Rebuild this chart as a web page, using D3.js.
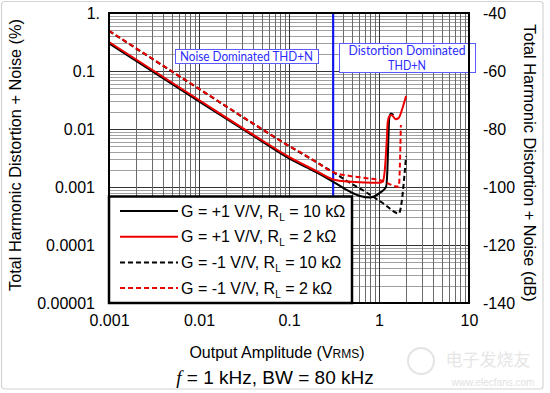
<!DOCTYPE html>
<html>
<head>
<meta charset="utf-8">
<script src="https://cdn.jsdelivr.net/npm/d3@7"></script>
<style>
  html, body { margin: 0; padding: 0; background: #ffffff; }
  svg { display: block; }
  text { font-family: "Liberation Sans", Arial, sans-serif; }
</style>
</head>
<body>
<svg id="chart" width="550" height="393"></svg>
<script>
// ---------------- data ----------------
const xTickValues = [0.001, 0.01, 0.1, 1, 10];
const xTickLabels = ["0.001", "0.01", "0.1", "1", "10"];
const yTickValues = [1, 0.1, 0.01, 0.001, 0.0001, 0.00001];
const yTickLabels = ["1.", "0.1", "0.01", "0.001", "0.0001", "0.00001"];
const dbTickValues = [-40, -60, -80, -100, -120, -140];
const dbTickLabels = ["-40", "-60", "-80", "-100", "-120", "-140"];

// G = +1 V/V, RL = 10 kOhm (black solid)
const ampPos10k = [0.001, 0.01, 0.05, 0.1, 0.2, 0.31, 0.476, 0.615, 0.79, 1.03, 1.2, 1.24, 1.27, 1.30, 1.36, 1.45];
const thdPos10k = [0.30, 0.030, 0.0061, 0.0031, 0.0018, 0.00123, 0.00083, 0.0007, 0.00066, 0.0008, 0.00101, 0.002, 0.0065, 0.0155, 0.0185, 0.0175];
// G = +1 V/V, RL = 2 kOhm (red solid)
const ampPos2k = [0.001, 0.01, 0.05, 0.1, 0.2, 0.31, 0.45, 0.7, 1.0, 1.10, 1.16, 1.22, 1.25, 1.31, 1.38, 1.53, 1.65, 1.84, 2.0];
const thdPos2k = [0.316, 0.0316, 0.0064, 0.0033, 0.0019, 0.00135, 0.00124, 0.00119, 0.00118, 0.00125, 0.00196, 0.0065, 0.0132, 0.0168, 0.0175, 0.0148, 0.0154, 0.024, 0.037];
// G = -1 V/V, RL = 10 kOhm (black dashed)
const ampNeg10k = [0.001, 0.01, 0.05, 0.1, 0.2, 0.31, 0.476, 0.73, 1.12, 1.66, 2.0];
const thdNeg10k = [0.49, 0.049, 0.0099, 0.0051, 0.0027, 0.0018, 0.00118, 0.0008, 0.00052, 0.00035, 0.0034];
// G = -1 V/V, RL = 2 kOhm (red dashed)
const ampNeg2k = [0.001, 0.01, 0.05, 0.1, 0.133, 0.2, 0.31, 0.476, 0.73, 1.03, 1.66, 1.75];
const thdNeg2k = [0.495, 0.0495, 0.0100, 0.0051, 0.0040, 0.0027, 0.0018, 0.00155, 0.00142, 0.00131, 0.00101, 0.0117];

const seriesNames = [
  ["G = +1 V/V, R", "L", " = 10 kΩ"],
  ["G = +1 V/V, R", "L", " = 2 kΩ"],
  ["G = -1 V/V, R", "L", " = 10 kΩ"],
  ["G = -1 V/V, R", "L", " = 2 kΩ"]
];
const boundaryAmp = 0.31;
const noiseLabel = "Noise Dominated THD+N";
const distortionLabel = ["Distortion Dominated", "THD+N"];

// ---------------- drawing ----------------
const svg = d3.select("#chart");
const L = 109, R = 469, T = 13, B = 303;

const x = d3.scaleLog().domain([0.001, 10]).range([L, R]);
const y = d3.scaleLog().domain([0.00001, 1]).range([B, T]);
const yDb = d3.scaleLinear().domain([-140, -40]).range([B, T]);

// outer light border
svg.append("rect").attr("x", 1.5).attr("y", 1.5).attr("width", 541.5).attr("height", 387.5)
  .attr("rx", 3).attr("fill", "none").attr("stroke", "#d4d4d4").attr("stroke-width", 1.2);

// plot background
svg.append("rect").attr("x", L).attr("y", T).attr("width", R - L).attr("height", B - T).attr("fill", "#fff");

// grid
const grid = svg.append("g");
const xMinor = x.ticks(40).filter(v => v > 0.001 && v < 10);
const yMinor = y.ticks(60).filter(v => v > 0.00001 && v < 1);
const isMajor = v => Math.abs(Math.log10(v) - Math.round(Math.log10(v))) < 1e-6;
grid.selectAll("line.hy").data(yMinor).join("line")
  .attr("x1", L).attr("x2", R)
  .attr("y1", d => Math.round(y(d)) + 0.5).attr("y2", d => Math.round(y(d)) + 0.5)
  .attr("stroke", d => isMajor(d) ? "#333" : "#a0a0a0").attr("stroke-width", 1);
grid.selectAll("line.vx").data(xMinor).join("line")
  .attr("y1", T).attr("y2", B)
  .attr("x1", d => Math.round(x(d)) + 0.5).attr("x2", d => Math.round(x(d)) + 0.5)
  .attr("stroke", d => isMajor(d) ? "#333" : "#6a6a6a").attr("stroke-width", 1);

// boundary line
svg.append("line").attr("x1", x(boundaryAmp)).attr("x2", x(boundaryAmp))
  .attr("y1", T).attr("y2", B).attr("stroke", "#0a14ff").attr("stroke-width", 2);

// series
const line = d3.line().x(d => x(d[0])).y(d => y(d[1])).curve(d3.curveMonotoneX);
const zip = (a, b) => a.map((v, i) => [v, b[i]]);
const series = [
  { pts: zip(ampPos10k, thdPos10k), color: "#000", dash: null },
  { pts: zip(ampNeg10k, thdNeg10k), color: "#000", dash: "5,3" },
  { pts: zip(ampPos2k, thdPos2k), color: "#ee0000", dash: null },
  { pts: zip(ampNeg2k, thdNeg2k), color: "#ee0000", dash: "5,3" }
];
series.forEach(s => {
  svg.append("path").attr("d", line(s.pts)).attr("fill", "none")
    .attr("stroke", s.color).attr("stroke-width", 2)
    .attr("stroke-dasharray", s.dash);
});

// annotation boxes
const boxFont = "Lato, 'Open Sans', sans-serif";
svg.append("rect").attr("x", 175.5).attr("y", 49.5).attr("width", 143).attr("height", 14)
  .attr("fill", "#fff").attr("stroke", "#5a5aff").attr("stroke-width", 1);
svg.append("text").attr("x", 180).attr("y", 56.5).attr("dy", "0.35em")
  .attr("fill", "#2b2bff").attr("textLength", 133).attr("lengthAdjust", "spacingAndGlyphs")
  .style("font-family", boxFont).style("font-size", "12.5px").text(noiseLabel);

svg.append("rect").attr("x", 339.5).attr("y", 43.5).attr("width", 136).attr("height", 29)
  .attr("fill", "#fff").attr("stroke", "#5a5aff").attr("stroke-width", 1);
distortionLabel.forEach((t, i) => {
  const tx = svg.append("text").attr("x", 407).attr("y", 50.5 + i * 15.5).attr("dy", "0.35em")
    .attr("text-anchor", "middle").attr("fill", "#2b2bff")
    .style("font-family", boxFont).style("font-size", "12.5px").text(t);
  if (i === 0) tx.attr("textLength", 117).attr("lengthAdjust", "spacingAndGlyphs");
  else tx.attr("textLength", 38).attr("lengthAdjust", "spacingAndGlyphs");
});

// legend
const lg = svg.append("g");
lg.append("rect").attr("x", 109).attr("y", 196.5).attr("width", 243).attr("height", 106.5)
  .attr("fill", "#fff").attr("stroke", "#000").attr("stroke-width", 2.5);
const legendSeries = [series[0], series[2], series[1], series[3]];
seriesNames.forEach((nm, i) => {
  const cy = 211 + i * 25.7;
  const s = legendSeries[i];
  lg.append("line").attr("x1", 120).attr("x2", 178).attr("y1", cy).attr("y2", cy)
    .attr("stroke", s.color).attr("stroke-width", 2).attr("stroke-dasharray", s.dash);
  const t = lg.append("text").attr("x", 181).attr("y", cy).attr("dy", "0.35em")
    .style("font-size", "16px").attr("fill", "#000");
  t.append("tspan").text(nm[0]);
  t.append("tspan").attr("dy", "4").style("font-size", "10px").text(nm[1]);
  t.append("tspan").attr("dy", "-4").text(nm[2]);
});

// plot frame
svg.append("rect").attr("x", L).attr("y", T).attr("width", R - L).attr("height", B - T)
  .attr("fill", "none").attr("stroke", "#000").attr("stroke-width", 2);

// axes (labels only)
const axLeft = d3.axisLeft(y).tickValues(yTickValues).tickSize(0)
  .tickFormat((d, i) => yTickLabels[i]);
const gl = svg.append("g").attr("transform", `translate(${95},0)`).call(axLeft);
gl.select(".domain").remove();
gl.selectAll("text").style("font-size", "16px").style("font-family", "'Liberation Sans', Arial, sans-serif")
  .attr("fill", "#000").attr("x", (d, i) => yTickLabels[i].endsWith(".") ? 5 : 0);

const axRight = d3.axisRight(yDb).tickValues(dbTickValues).tickSize(0)
  .tickFormat((d, i) => dbTickLabels[i]);
const gr = svg.append("g").attr("transform", `translate(${483},0)`).call(axRight);
gr.select(".domain").remove();
gr.selectAll("text").style("font-size", "16px").style("font-family", "'Liberation Sans', Arial, sans-serif")
  .attr("fill", "#000").attr("x", 0);

const axBottom = d3.axisBottom(x).tickValues(xTickValues).tickSize(0)
  .tickFormat((d, i) => xTickLabels[i]);
const gb = svg.append("g").attr("transform", `translate(0,${312})`).call(axBottom);
gb.select(".domain").remove();
gb.selectAll("text").style("font-size", "16px").style("font-family", "'Liberation Sans', Arial, sans-serif")
  .attr("fill", "#000");

// axis titles
svg.append("text").attr("transform", "translate(15,155) rotate(-90)")
  .attr("text-anchor", "middle").attr("dy", "0.35em").style("font-size", "16.3px")
  .text("Total Harmonic Distortion + Noise (%)");
svg.append("text").attr("transform", "translate(530,163) rotate(90)")
  .attr("text-anchor", "middle").attr("dy", "0.35em").style("font-size", "16.3px")
  .text("Total Harmonic Distortion + Noise (dB)");

const xt = svg.append("text").attr("x", 277).attr("y", 358).attr("text-anchor", "middle")
  .style("font-size", "16px");
xt.append("tspan").text("Output Amplitude (V");
xt.append("tspan").style("font-size", "12px").text("RMS");
xt.append("tspan").text(")");

const cap = svg.append("text").attr("x", 275).attr("y", 384).attr("text-anchor", "middle")
  .style("font-size", "19px");
cap.append("tspan").style("font-style", "italic").style("font-family", "'Liberation Serif', serif").text("f");
cap.append("tspan").text(" = 1 kHz, BW = 80 kHz");

// watermark
const wm = svg.append("g").attr("opacity", 0.9);
wm.append("circle").attr("cx", 421).attr("cy", 361).attr("r", 13)
  .attr("fill", "none").attr("stroke", "#e2e2e2").attr("stroke-width", 2);
wm.append("text").attr("x", 488).attr("y", 366).attr("text-anchor", "middle")
  .style("font-family", "'Noto Sans CJK SC', sans-serif").style("font-size", "17px")
  .attr("fill", "#e4e4e4").text("电子发烧友");
wm.append("text").attr("x", 493).attr("y", 386).attr("text-anchor", "middle")
  .style("font-size", "10px").attr("fill", "#e0e0e0").text("www.elecfans.com");
</script>
</body>
</html>
